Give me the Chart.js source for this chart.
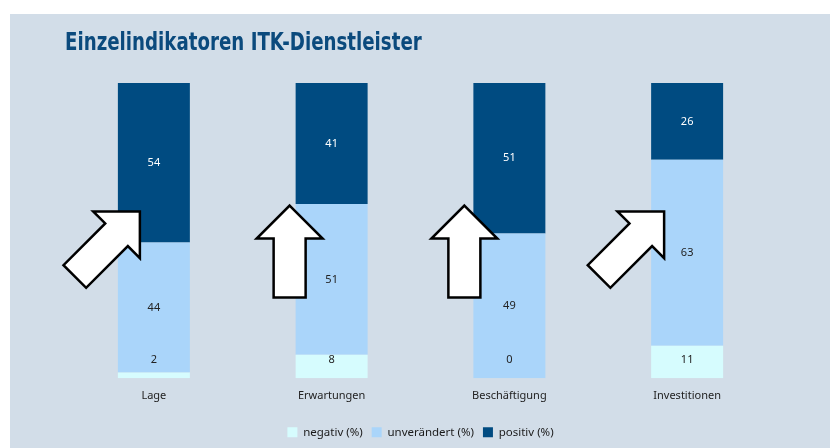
<!DOCTYPE html>
<html>
<head>
<meta charset="utf-8">
<script src="https://cdn.jsdelivr.net/npm/chart.js@4"></script>
<style>
  html, body { margin: 0; padding: 0; background: #fff; }
  #panel { position: absolute; left: 10px; top: 14px; width: 820px; height: 434px; background: #d2dde8; }
  #title {
    position: absolute; left: 55px; top: 13px; margin: 0;
    font-family: 'DejaVu Sans Condensed', 'DejaVu Sans', sans-serif;
    font-weight: bold; font-size: 25px; color: #0b4a7d; white-space: nowrap;
    transform: scaleX(0.81); transform-origin: 0 0;
  }
  #wrap { position: absolute; left: 0; top: 0; width: 820px; height: 434px; }
</style>
</head>
<body>
<div id="panel">
  <div id="wrap"><canvas id="chart"></canvas></div>
  <h1 id="title">Einzelindikatoren ITK-Dienstleister</h1>
</div>
<script>
const categories = ['Lage', 'Erwartungen', 'Beschäftigung', 'Investitionen'];
const negativ = [2, 8, 0, 11];
const unveraendert = [44, 51, 49, 63];
const positiv = [54, 41, 51, 26];
const seriesNames = ['negativ (%)', 'unverändert (%)', 'positiv (%)'];
// trend arrow direction per category, degrees from vertical
const arrowAngles = [45, 0, 0, 45];

document.addEventListener('DOMContentLoaded', () => {
  const FONT = "'Noto Sans', sans-serif";

  // value labels inside the segments
  const segmentLabels = {
    id: 'segmentLabels',
    afterDatasetsDraw(chart) {
      const { ctx } = chart;
      ctx.save();
      ctx.font = '11px ' + FONT;
      ctx.textAlign = 'center';
      ctx.textBaseline = 'middle';
      chart.data.datasets.forEach((ds, di) => {
        const meta = chart.getDatasetMeta(di);
        meta.data.forEach((bar, i) => {
          let y = (bar.y + bar.base) / 2;
          if (di === 0) y = bar.base - 18;
          ctx.fillStyle = di === 2 ? '#ffffff' : '#222222';
          ctx.fillText(String(ds.data[i]), bar.x, y);
        });
      });
      ctx.restore();
    }
  };

  // white outlined trend arrows next to each bar
  const trendArrows = {
    id: 'trendArrows',
    afterDatasetsDraw(chart, args, opts) {
      const { ctx } = chart;
      const xs = chart.scales.x, ys = chart.scales.y;
      ctx.save();
      arrowAngles.forEach((ang, i) => {
        const o = opts.place[i];
        const tx = xs.getPixelForValue(i) + o.dx;
        const ty = ys.getPixelForValue(o.v);
        ctx.save();
        ctx.translate(tx, ty);
        ctx.rotate(ang * Math.PI / 180);
        ctx.beginPath();
        ctx.moveTo(0, 0);
        ctx.lineTo(33, 33);
        ctx.lineTo(16, 33);
        ctx.lineTo(16, 92);
        ctx.lineTo(-16, 92);
        ctx.lineTo(-16, 33);
        ctx.lineTo(-33, 33);
        ctx.closePath();
        ctx.fillStyle = '#ffffff';
        ctx.fill();
        ctx.lineWidth = 2.5;
        ctx.lineJoin = 'miter';
        ctx.strokeStyle = '#000000';
        ctx.stroke();
        ctx.restore();
      });
      ctx.restore();
    }
  };

  const ctx = document.getElementById('chart').getContext('2d');
  new Chart(ctx, {
    type: 'bar',
    data: {
      labels: categories,
      datasets: [
        { label: seriesNames[0], data: negativ, backgroundColor: '#d6fcfe' },
        { label: seriesNames[1], data: unveraendert, backgroundColor: '#aad5fa' },
        { label: seriesNames[2], data: positiv, backgroundColor: '#004b81' },
      ],
    },
    options: {
      responsive: true,
      maintainAspectRatio: false,
      animation: false,
      barPercentage: 0.81,
      categoryPercentage: 0.5,
      layout: { padding: { left: 55, right: 54, top: 69, bottom: 0 } },
      plugins: {
        legend: {
          position: 'bottom',
          labels: {
            boxWidth: 10, boxHeight: 10, padding: 9, color: '#1a1a1a',
            font: { family: FONT, size: 11.5 },
          },
        },
        tooltip: { enabled: false },
        trendArrows: {
          place: [
            { dx: -14, v: 56.5 },
            { dx: -42, v: 58.5 },
            { dx: -45, v: 58.5 },
            { dx: -23, v: 56.5 },
          ],
        },
      },
      scales: {
        x: {
          stacked: true,
          grid: { display: false, drawTicks: false },
          border: { display: false },
          ticks: { color: '#222222', padding: 11, font: { family: FONT, size: 11 } },
          afterFit(s) { s.height += 4; },
        },
        y: { stacked: true, display: false, min: 0, max: 100 },
      },
    },
    plugins: [segmentLabels, trendArrows],
  });
});
</script>
</body>
</html>
